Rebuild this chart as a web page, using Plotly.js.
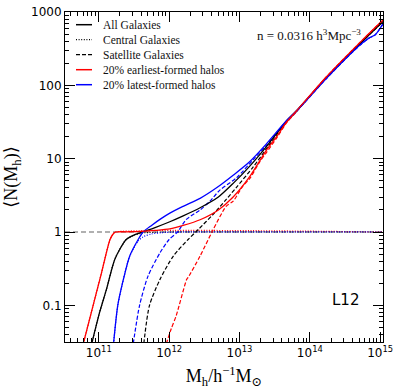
<!DOCTYPE html>
<html>
<head>
<meta charset="utf-8">
<script src="https://cdn.plot.ly/plotly-3.0.1.min.js"></script>
<style>
  html, body { margin: 0; padding: 0; background: #fff; }
  #hod { width: 399px; height: 389px; }
</style>
</head>
<body>
<div id="hod"></div>
<script>
// halo mass values are log10(M / h^-1 Msun)

// all galaxies (black)
const allLogM = [10.90, 11.01, 11.11, 11.23, 11.39, 11.50, 11.62, 11.80, 12.01, 12.20, 12.44, 12.70, 12.91, 13.14, 13.38, 13.67, 13.81, 14.23, 14.75, 15.04];
const allN = [0.03, 0.079, 0.166, 0.43, 0.79, 0.91, 1.0, 1.15, 1.38, 1.66, 2.14, 3.0, 4.6, 7.8, 14.5, 33, 45, 126, 400, 740];

const cenLogM = [10.90, 11.01, 11.11, 11.23, 11.39, 11.50, 11.62, 11.80, 12.00, 15.04];
const cenN = [0.03, 0.079, 0.166, 0.43, 0.79, 0.90, 0.97, 0.99, 1.0, 1.0];

const satLogM = [11.64, 11.72, 11.87, 12.06, 12.27, 12.43, 12.62, 12.80, 12.96, 13.19, 13.38, 13.67, 13.81, 14.23, 14.75, 15.04];
const satN = [0.03, 0.099, 0.226, 0.47, 0.79, 1.12, 1.72, 2.7, 4.1, 7.6, 13.5, 32, 44, 125, 398, 740];

// 20% earliest-formed halos (red)
const earlyAllLogM = [10.78, 10.92, 11.04, 11.16, 11.21, 11.24, 11.40, 11.60, 11.80, 12.01, 12.20, 12.44, 12.70, 12.91, 13.14, 13.38, 13.52, 13.67, 13.81, 14.23, 14.75, 15.04];
const earlyAllN = [0.03, 0.10, 0.28, 0.79, 0.955, 1.0, 1.007, 1.02, 1.05, 1.10, 1.23, 1.47, 2.0, 3.0, 5.6, 12.9, 19.5, 31.6, 44.7, 129, 417, 776];

const earlyCenLogM = [10.78, 10.92, 11.04, 11.16, 11.21, 11.24, 15.04];
const earlyCenN = [0.03, 0.10, 0.28, 0.79, 0.955, 1.0, 1.0];

const earlySatLogM = [11.96, 12.03, 12.10, 12.25, 12.27, 12.44, 12.62, 12.81, 12.91, 13.05, 13.14, 13.29, 13.38, 13.52, 13.67, 13.81, 14.23, 14.75, 15.04];
const earlySatN = [0.03, 0.048, 0.072, 0.226, 0.24, 0.47, 1.05, 2.24, 2.63, 4.27, 5.25, 9.1, 12.0, 18.6, 30.9, 43.7, 129, 417, 776];

// 20% latest-formed halos (blue)
const lateAllLogM = [11.21, 11.27, 11.35, 11.44, 11.56, 11.63, 11.75, 11.88, 12.01, 12.20, 12.44, 12.70, 12.91, 13.14, 13.38, 13.67, 13.81, 14.23, 14.60, 14.75, 14.85, 14.93, 15.04];
const lateAllN = [0.03, 0.10, 0.226, 0.47, 0.79, 1.0, 1.23, 1.51, 1.81, 2.24, 2.88, 4.17, 5.94, 9.0, 15.8, 33.1, 44.7, 123, 282, 380, 447, 490, 692];

const lateCenLogM = [11.21, 11.27, 11.35, 11.44, 11.56, 11.63, 11.75, 11.90, 12.10, 15.04];
const lateCenN = [0.03, 0.10, 0.226, 0.47, 0.75, 0.86, 0.94, 0.98, 1.0, 1.0];

const lateSatLogM = [11.49, 11.58, 11.70, 11.87, 12.00, 12.12, 12.24, 12.44, 12.58, 12.72, 12.96, 13.20, 13.38, 13.67, 13.81, 14.23, 14.60, 14.75, 14.85, 14.93, 15.04];
const lateSatN = [0.03, 0.10, 0.25, 0.52, 0.79, 1.0, 1.47, 2.0, 2.63, 3.72, 5.5, 9.8, 15.1, 32.4, 44, 122, 280, 378, 445, 488, 690];

// legend
const legendLabels = ['All Galaxies', 'Central Galaxies', 'Satellite Galaxies', '20% earliest-formed halos', '20% latest-formed halos'];
const legendColors = ['black', 'black', 'black', '#ff0000', '#0000ff'];
const legendDash = ['solid', 'dot', 'dash', 'solid', 'solid'];

// axes
const xLogRange = [10.52, 15.04];
const yLogRange = [-1.5, 3.0];
const xTickVals = [1e11, 1e12, 1e13, 1e14, 1e15];
const xTickText = ['10<sup>11</sup>', '10<sup>12</sup>', '10<sup>13</sup>', '10<sup>14</sup>', '10<sup>15</sup>'];
const yTickVals = [0.1, 1, 10, 100, 1000];
const yTickText = ['0.1', '1', '10', '100', '1000'];

const SERIF = "'Liberation Serif', 'DejaVu Serif', serif";
const SANS = "'DejaVu Sans', sans-serif";
const DOT = '1px,1.6px';
const DASH = '4px,2px';

function toMass(logs) {
    return logs.map(function (v) { return Math.pow(10, v); });
}

function curve(logM, n, color, dash) {
    return {
        x: toMass(logM),
        y: n,
        type: 'scatter',
        mode: 'lines',
        line: {color: color, width: dash === 'solid' ? 1.3 : 1.2, dash: dash, shape: 'spline', smoothing: 0.7},
        showlegend: false,
        hoverinfo: 'skip'
    };
}

function minorTicks(lo, hi) {
    let vals = [];
    for (let k = Math.floor(lo); k <= Math.ceil(hi); k++) {
        for (let d = 2; d <= 9; d++) {
            vals.push(d * Math.pow(10, k));
        }
    }
    return vals;
}

var data = [
    curve(cenLogM, cenN, 'black', DOT),
    curve(earlyCenLogM, earlyCenN, '#ff0000', DOT),
    curve(lateCenLogM, lateCenN, '#0000ff', DOT),
    curve(satLogM, satN, 'black', DASH),
    curve(earlySatLogM, earlySatN, '#ff0000', DASH),
    curve(lateSatLogM, lateSatN, '#0000ff', DASH),
    curve(allLogM, allN, 'black', 'solid'),
    curve(lateAllLogM, lateAllN, '#0000ff', 'solid'),
    curve(earlyAllLogM, earlyAllN, '#ff0000', 'solid')
];

// gray reference line at N = 1
let oneY = (0 - yLogRange[0]) / (yLogRange[1] - yLogRange[0]);
var shapes = [{
    type: 'line', xref: 'paper', yref: 'paper', x0: 0, x1: 1, y0: oneY, y1: oneY,
    line: {color: '#b0b0b0', width: 2, dash: '5px,3px'}, layer: 'below'
}];
var annotations = [];

// hand-made legend, rows 15px apart
const plotH = 330, plotW = 318;
for (let i = 0; i < legendLabels.length; i++) {
    let yy = 1 - (12.7 + 15 * i) / plotH;
    shapes.push({
        type: 'line', xref: 'paper', yref: 'paper',
        x0: 11 / plotW, x1: 27 / plotW, y0: yy, y1: yy,
        line: {color: legendColors[i], width: legendDash[i] === 'solid' ? 1.5 : 1.2,
            dash: legendDash[i] === 'dot' ? DOT : (legendDash[i] === 'dash' ? DASH : 'solid')}
    });
    annotations.push({
        xref: 'paper', yref: 'paper', x: 36 / plotW, y: yy,
        xanchor: 'left', yanchor: 'middle', showarrow: false,
        text: legendLabels[i],
        font: {family: SERIF, size: 11.5, color: '#111'}
    });
}

annotations.push({
    xref: 'paper', yref: 'paper', x: 0.936, y: 0.930,
    xanchor: 'right', yanchor: 'middle', showarrow: false,
    text: 'n = 0.0316 h<sup>3</sup>Mpc<sup>−3</sup>',
    font: {family: SERIF, size: 13, color: '#111'}
});
annotations.push({
    xref: 'paper', yref: 'paper', x: 0.833, y: 0.127,
    xanchor: 'left', yanchor: 'middle', showarrow: false,
    text: 'L12',
    font: {family: SANS, size: 15, color: 'black'}
});

var axisCommon = {
    type: 'log',
    showline: true, linecolor: 'black', linewidth: 1, mirror: 'allticks',
    ticks: 'inside', ticklen: 10, tickwidth: 1, tickcolor: 'black',
    showgrid: false, zeroline: false,
    tickfont: {family: SANS, size: 12, color: 'black'}
};

var layout = {
    width: 399,
    height: 389,
    margin: {l: 65, r: 16, t: 12, b: 47},
    paper_bgcolor: 'white',
    plot_bgcolor: 'white',
    showlegend: false,
    xaxis: Object.assign({}, axisCommon, {
        range: xLogRange,
        tickmode: 'array', tickvals: xTickVals, ticktext: xTickText,
        minor: {tickmode: 'array', tickvals: minorTicks(10, 15), ticks: 'inside', ticklen: 4, tickcolor: 'black'},
        title: {text: 'M<sub>h</sub>/h<sup>−1</sup>M<sub>⊙</sub>', standoff: 12,
            font: {family: SERIF, size: 18, color: 'black'}}
    }),
    yaxis: Object.assign({}, axisCommon, {
        range: yLogRange,
        tickmode: 'array', tickvals: yTickVals, ticktext: yTickText,
        minor: {tickmode: 'array', tickvals: minorTicks(-2, 3), ticks: 'inside', ticklen: 4, tickcolor: 'black'},
        title: {text: '⟨N(M<sub>h</sub>)⟩', standoff: 8,
            font: {family: SERIF, size: 18, color: 'black'}}
    }),
    shapes: shapes,
    annotations: annotations
};

Plotly.newPlot('hod', data, layout, {displayModeBar: false, staticPlot: true});
</script>
</body>
</html>
